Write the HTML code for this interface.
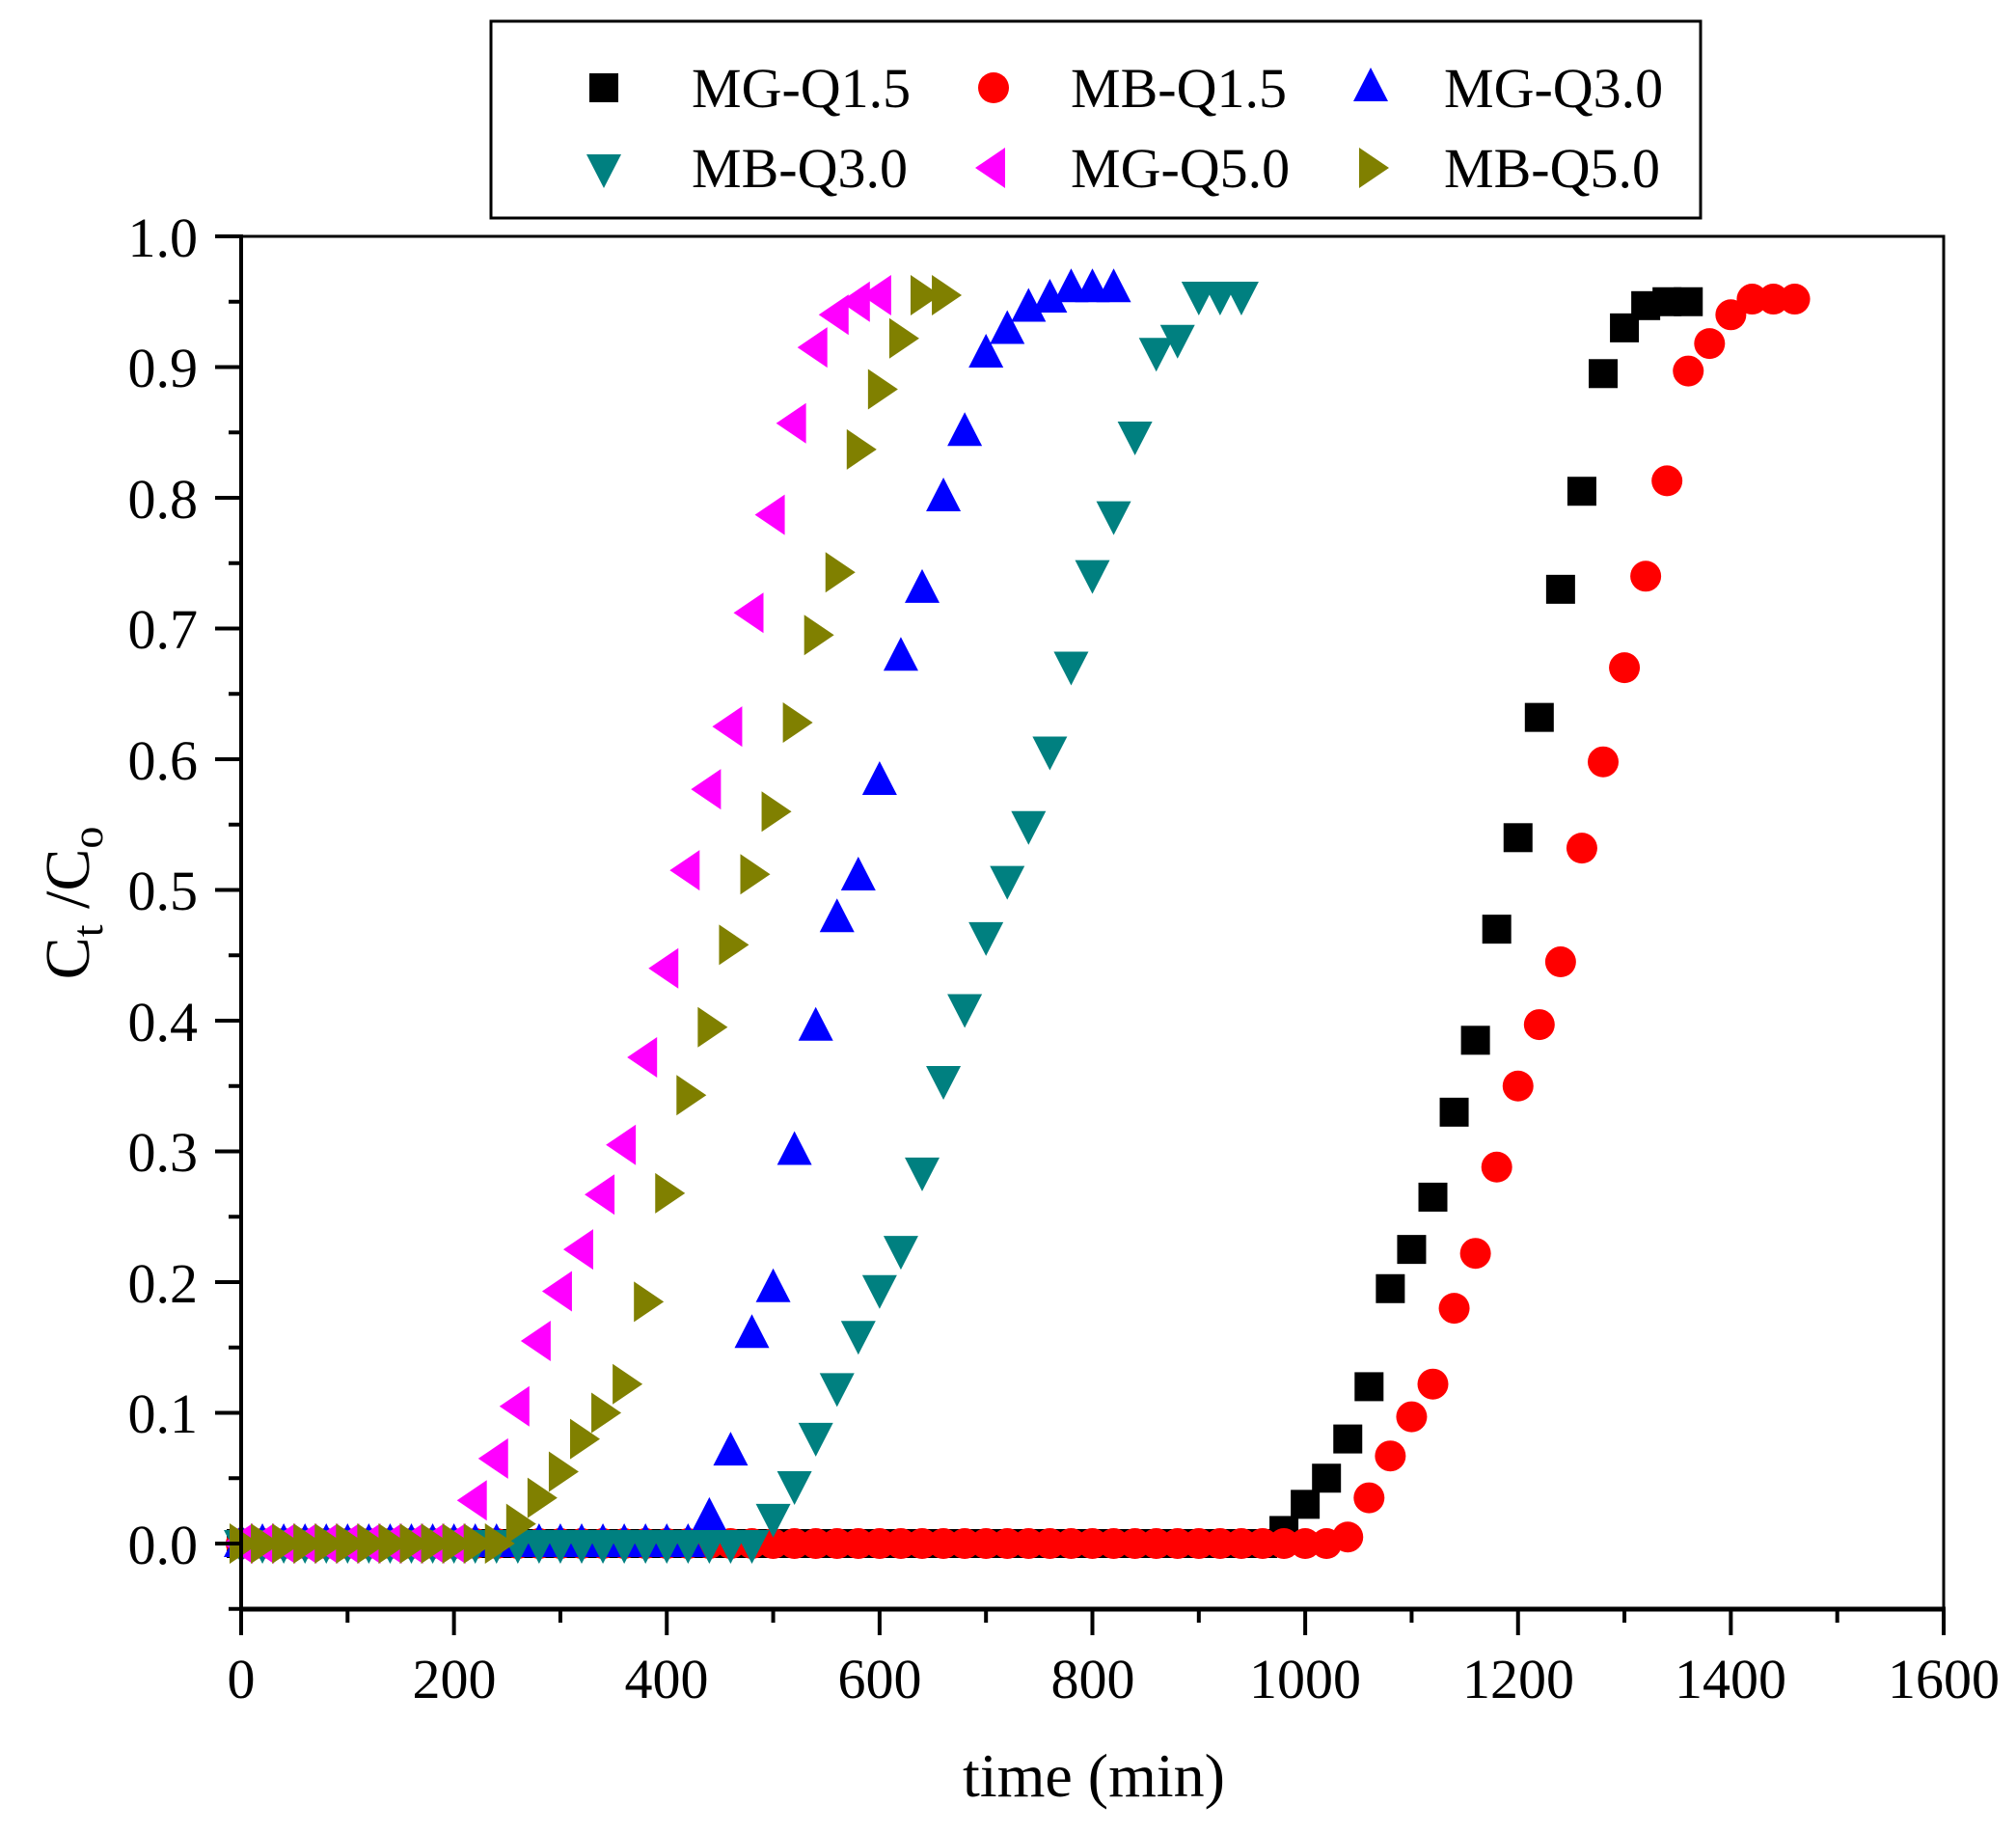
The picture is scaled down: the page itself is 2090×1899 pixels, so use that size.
<!DOCTYPE html>
<html><head><meta charset="utf-8"><style>
html,body{margin:0;padding:0;background:#fff;}
svg{display:block;}
text{font-family:"Liberation Serif","Times New Roman",serif;fill:#000;}
</style></head><body>
<svg id="s" width="2090" height="1899" viewBox="0 0 2090 1899" xmlns="http://www.w3.org/2000/svg">
<rect x="0" y="0" width="2090" height="1899" fill="#fff"/>
<g id="data"></g>
<rect x="250" y="245" width="1765" height="1423" fill="none" stroke="#000" stroke-width="3"/>
<line x1="248" y1="1668" x2="2017" y2="1668" stroke="#000" stroke-width="5"/>
<line x1="250" y1="243" x2="250" y2="1670" stroke="#000" stroke-width="4"/>
<g id="ticks" stroke="#000" stroke-width="4"></g>
<g font-size="58" text-anchor="end">
<text x="205" y="266">1.0</text><text x="205" y="401">0.9</text><text x="205" y="537">0.8</text>
<text x="205" y="672">0.7</text><text x="205" y="808">0.6</text><text x="205" y="943">0.5</text>
<text x="205" y="1079">0.4</text><text x="205" y="1214">0.3</text><text x="205" y="1350">0.2</text>
<text x="205" y="1485">0.1</text><text x="205" y="1621">0.0</text>
</g>
<g font-size="58" text-anchor="middle">
<text x="250" y="1760">0</text><text x="471" y="1760">200</text><text x="691" y="1760">400</text>
<text x="912" y="1760">600</text><text x="1133" y="1760">800</text><text x="1353" y="1760">1000</text>
<text x="1574" y="1760">1200</text><text x="1794" y="1760">1400</text><text x="2015" y="1760">1600</text>
</g>
<text x="1134" y="1862" font-size="64" text-anchor="middle">time (min)</text>
<text transform="translate(92,936) rotate(-90)" font-size="66" text-anchor="middle">C<tspan font-size="46" dy="14">t</tspan><tspan dy="-14"> /C</tspan><tspan font-size="46" dy="14">o</tspan></text>
<rect x="509" y="22" width="1254" height="204" fill="#fff" stroke="#000" stroke-width="3"/>
<g id="leg"></g>
<g font-size="58">
<text x="717" y="111">MG-Q1.5</text><text x="1110" y="111">MB-Q1.5</text><text x="1497" y="111">MG-Q3.0</text>
<text x="717" y="194">MB-Q3.0</text><text x="1110" y="194">MG-Q5.0</text><text x="1497" y="194">MB-Q5.0</text>
</g>
</svg>
<script>
var NS="http://www.w3.org/2000/svg";
function X(t){return 250+t*1765/1600;}
function Y(v){return 1600-v*1355;}
function mk(g,type,color,cx,cy){
  var e;
  if(type=="sq"){e=document.createElementNS(NS,"rect");e.setAttribute("x",cx-15);e.setAttribute("y",cy-15);e.setAttribute("width",30);e.setAttribute("height",30);}
  else if(type=="ci"){e=document.createElementNS(NS,"circle");e.setAttribute("cx",cx);e.setAttribute("cy",cy);e.setAttribute("r",16);}
  else{e=document.createElementNS(NS,"polygon");var p;
    if(type=="up")p=[[cx,cy-21],[cx-18,cy+14],[cx+18,cy+14]];
    else if(type=="dn")p=[[cx,cy+21],[cx-18,cy-14],[cx+18,cy-14]];
    else if(type=="lt")p=[[cx-19,cy],[cx+12,cy-21],[cx+12,cy+21]];
    else p=[[cx+19,cy],[cx-12,cy-21],[cx-12,cy+21]];
    e.setAttribute("points",p.map(function(a){return a.join(",")}).join(" "));}
  e.setAttribute("fill",color);g.appendChild(e);
}
function ser(start,zeroEnd,vals){var r=[];for(var t=0;t<=zeroEnd;t+=20)r.push([t,0]);var t=start;vals.forEach(function(v){r.push([t,v]);t+=20;});return r;}
var S=[
 ["sq","#000",ser(980,960,[0.01,0.03,0.05,0.08,0.12,0.195,0.225,0.265,0.33,0.385,0.47,0.54,0.632,0.73,0.805,0.895,0.93,0.947,0.95,0.95])],
 ["ci","#ff0000",ser(1040,1020,[0.005,0.035,0.067,0.097,0.122,0.18,0.222,0.288,0.35,0.397,0.445,0.532,0.598,0.67,0.74,0.813,0.897,0.918,0.94,0.952,0.952,0.952])],
 ["up","#0000ff",ser(440,420,[0.02,0.07,0.16,0.195,0.3,0.395,0.478,0.51,0.583,0.678,0.73,0.8,0.85,0.91,0.928,0.945,0.952,0.96,0.96,0.96])],
 ["dn","#008080",ser(500,480,[0.02,0.045,0.082,0.12,0.16,0.195,0.225,0.285,0.355,0.41,0.465,0.508,0.55,0.607,0.672,0.742,0.787,0.848,0.912,0.922,0.955,0.955,0.955])],
 ["lt","#ff00ff",ser(220,200,[0.033,0.065,0.105,0.155,0.193,0.225,0.267,0.305,0.372,0.44,0.515,0.577,0.625,0.712,0.787,0.857,0.915,0.94,0.95,0.955])],
 ["rt","#808000",ser(260,240,[0.015,0.035,0.055,0.08,0.1,0.122,0.185,0.268,0.343,0.395,0.458,0.512,0.56,0.628,0.695,0.743,0.837,0.883,0.922,0.955,0.955])]
];
var g=document.getElementById("data");
S.forEach(function(s){s[2].forEach(function(p){mk(g,s[0],s[1],X(p[0]),Y(p[1]));});});
var lg=document.getElementById("leg");
var L=[[626,91],[1030,91],[1421,91],[626,174],[1030,174],[1421,174]];
S.forEach(function(s,i){mk(lg,s[0],s[1],L[i][0],L[i][1]);});
var tk=document.getElementById("ticks");
function ln(a,b,c,d){var e=document.createElementNS(NS,"line");e.setAttribute("x1",a);e.setAttribute("y1",b);e.setAttribute("x2",c);e.setAttribute("y2",d);tk.appendChild(e);}
for(var i=0;i<=16;i++){var x=X(i*100);ln(x,1668,x,i%2==0?1695:1682);}
for(var i=-1;i<=20;i++){var y=Y(i*0.05);ln(250,y,i%2==0?223:237,y);}
</script>
</body></html>
